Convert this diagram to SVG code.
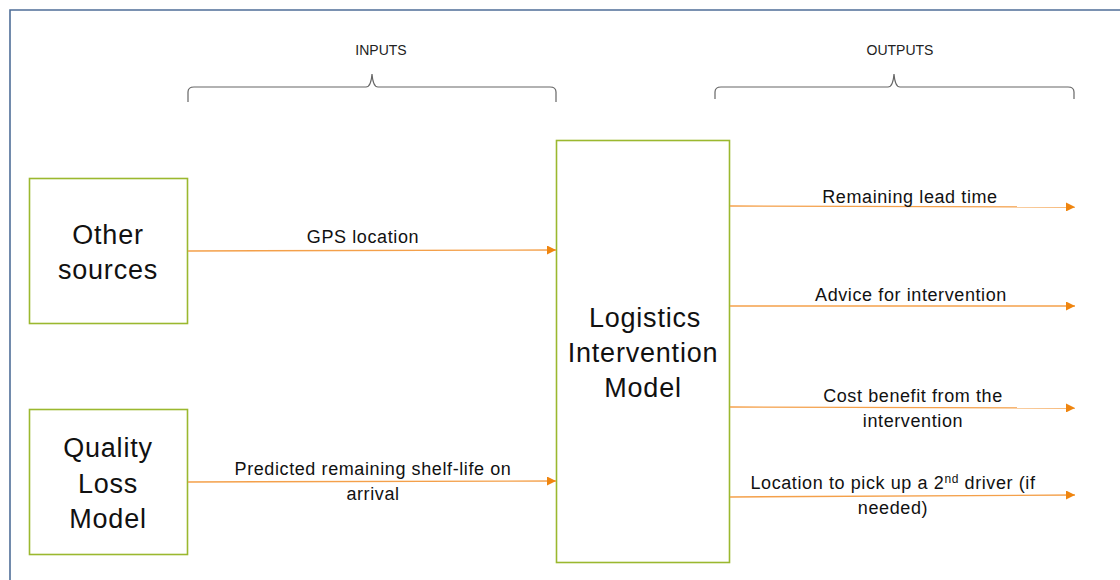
<svg xmlns="http://www.w3.org/2000/svg" width="1120" height="580" viewBox="0 0 1120 580">
<style>
  .box{fill:#ffffff;stroke:#9bb82f;stroke-width:1.6}
  .big{font-family:"Liberation Sans",Arial,sans-serif;font-size:27px;letter-spacing:0.8px;fill:#111;text-anchor:middle}
  .lbl{font-family:"Liberation Sans",Arial,sans-serif;font-size:18px;letter-spacing:0.6px;fill:#111;text-anchor:middle}
  .hdr{font-family:"Liberation Sans",Arial,sans-serif;font-size:14px;fill:#222;text-anchor:middle}
  .conn{stroke:#f4a04a;stroke-width:1.4;fill:none;marker-end:url(#arr)}
  .brace{stroke:#666;stroke-width:1.2;fill:none}
</style>
<defs>
  <marker id="arr" viewBox="0 0 10 10" refX="10" refY="5" markerWidth="10" markerHeight="9" markerUnits="userSpaceOnUse" orient="auto">
    <path d="M0,0 L10,5 L0,10 Z" fill="#ef850f"/>
  </marker>
</defs>
<rect x="0" y="0" width="1120" height="580" fill="#ffffff"/>
<path d="M10,590 L10,10 L1130,10" fill="none" stroke="#4f6e98" stroke-width="1.6"/>

<g id="braces">
  <text class="hdr" x="381" y="55">INPUTS</text>
  <path class="brace" d="M188,102 L188,92 Q188,87 194,87 L366,87 Q371,87 372,74 Q373,87 378,87 L550,87 Q556,87 556,92 L556,102"/>
  <text class="hdr" x="900" y="55">OUTPUTS</text>
  <path class="brace" d="M715,99 L715,92 Q715,87 721,87 L888,87 Q893,87 894,74 Q895,87 900,87 L1068,87 Q1074,87 1074,92 L1074,99"/>
</g>

<g id="other-sources">
  <rect class="box" x="29.5" y="178.5" width="158" height="145"/>
  <text class="big" x="108" y="244">Other</text>
  <text class="big" x="108" y="279">sources</text>
</g>

<g id="quality-loss-model">
  <rect class="box" x="29.5" y="409.5" width="158" height="145"/>
  <text class="big" x="108" y="457">Quality</text>
  <text class="big" x="108" y="493">Loss</text>
  <text class="big" x="108" y="528">Model</text>
</g>

<g id="logistics-intervention-model">
  <rect class="box" x="556.5" y="140.5" width="173" height="422"/>
  <text class="big" x="645" y="327">Logistics</text>
  <text class="big" x="643" y="362">Intervention</text>
  <text class="big" x="643" y="397">Model</text>
</g>

<g id="connectors">
  <path class="conn" d="M188,251 L556,250"/>
  <path class="conn" d="M188,482 L556,481"/>
  <path class="conn" d="M730,206 L1075,207"/>
  <path class="conn" d="M730,306 L1075,306"/>
  <path class="conn" d="M730,407 L1075,408"/>
  <path class="conn" d="M730,497 L1075,495"/>
</g>

<g id="labels">
  <text class="lbl" x="363" y="243">GPS location</text>
  <text class="lbl" x="373" y="475">Predicted remaining shelf-life on</text>
  <text class="lbl" x="373" y="500">arrival</text>
  <text class="lbl" x="910" y="203">Remaining lead time</text>
  <text class="lbl" x="911" y="301">Advice for intervention</text>
  <text class="lbl" x="913" y="402">Cost benefit from the</text>
  <text class="lbl" x="913" y="427">intervention</text>
  <text class="lbl" x="893" y="489">Location to pick up a 2<tspan font-size="12" dy="-6">nd</tspan><tspan dy="6"> driver (if</tspan></text>
  <text class="lbl" x="893" y="514">needed)</text>
</g>
</svg>
